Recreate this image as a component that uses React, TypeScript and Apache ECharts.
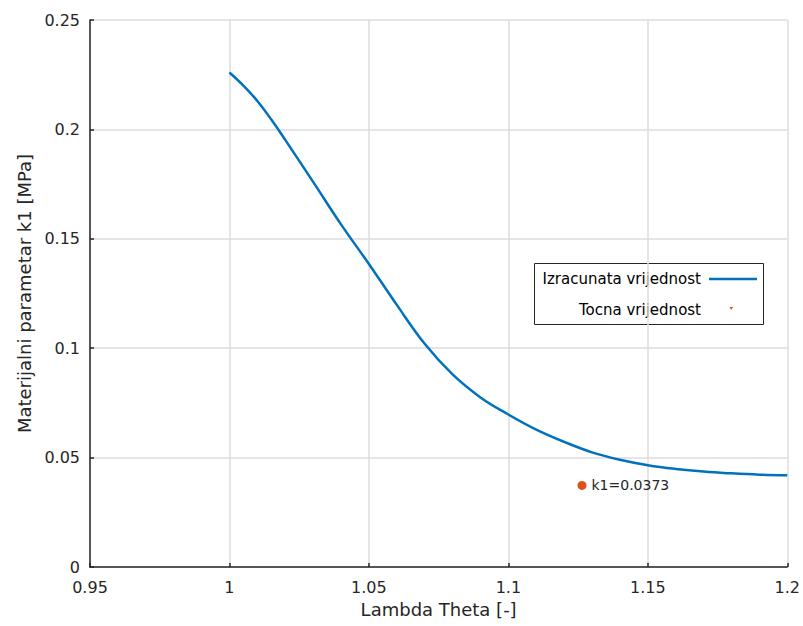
import React, { useEffect, useRef } from "react";
import * as echarts from "echarts";

const lambdaTheta = [1.0, 1.005, 1.01, 1.015, 1.02, 1.03, 1.04, 1.05, 1.06, 1.07, 1.08, 1.09, 1.1, 1.11, 1.12, 1.13, 1.14, 1.15, 1.16, 1.17, 1.18, 1.19, 1.2];
const k1Computed = [0.226, 0.22, 0.213, 0.2045, 0.1952, 0.176, 0.1566, 0.1385, 0.1198, 0.102, 0.088, 0.0775, 0.0697, 0.0628, 0.0572, 0.0524, 0.049, 0.0465, 0.0448, 0.0436, 0.0428, 0.0422, 0.0419];
const exactX = [1.1264];
const exactK1 = [0.0373];
const seriesNames = ["Izracunata vrijednost", "Tocna vrijednost"];

const FONT = "DejaVu Sans";
const TXT = "#262626";

export default function App() {
  const ref = useRef<HTMLDivElement>(null);
  useEffect(() => {
    if (!ref.current) return;
    const chart = echarts.init(ref.current, null, { renderer: "svg" });
    chart.setOption({
      animation: false,
      backgroundColor: "#ffffff",
      grid: { left: 90, right: 13, top: 20, bottom: 59, containLabel: false },
      xAxis: {
        type: "value",
        min: 0.95,
        max: 1.2,
        interval: 0.05,
        name: "Lambda Theta [-]",
        nameLocation: "middle",
        nameGap: 33,
        nameTextStyle: { fontFamily: FONT, fontSize: 18, color: TXT },
        axisLine: { show: true, onZero: false, lineStyle: { color: TXT, width: 1.5 } },
        axisTick: { show: true, inside: true, length: 4, lineStyle: { color: TXT, width: 1.5 } },
        axisLabel: { fontFamily: FONT, fontSize: 16, color: TXT, margin: 12 },
        splitLine: { show: true, lineStyle: { color: "#dcdcdc", width: 1.5 } },
      },
      yAxis: {
        type: "value",
        min: 0,
        max: 0.25,
        interval: 0.05,
        name: "Materijalni parametar k1 [MPa]",
        nameLocation: "middle",
        nameGap: 57,
        nameTextStyle: { fontFamily: FONT, fontSize: 18, color: TXT },
        axisLine: { show: true, onZero: false, lineStyle: { color: TXT, width: 1.5 } },
        axisTick: { show: true, inside: true, length: 4, lineStyle: { color: TXT, width: 1.5 } },
        axisLabel: { fontFamily: FONT, fontSize: 16, color: TXT, margin: 10 },
        splitLine: { show: true, lineStyle: { color: "#dcdcdc", width: 1.5 } },
      },
      series: [
        {
          name: seriesNames[0],
          type: "line",
          smooth: 0.4,
          showSymbol: false,
          data: lambdaTheta.map((x, i) => [x, k1Computed[i]]),
          lineStyle: { color: "#0072BD", width: 2.5 },
          itemStyle: { color: "#0072BD" },
          z: 3,
        },
        {
          name: seriesNames[1],
          type: "scatter",
          symbol: "circle",
          symbolSize: 9,
          data: exactX.map((x, i) => [x, exactK1[i]]),
          itemStyle: { color: "#D95319", opacity: 1 },
          label: {
            show: true,
            position: "right",
            distance: 5,
            formatter: (p: any) => `k1=${p.value[1]}`,
            fontFamily: FONT,
            fontSize: 14,
            color: TXT,
          },
          z: 4,
        },
      ],
      graphic: [
        {
          type: "group",
          children: [
            {
              type: "rect",
              shape: { x: 534.5, y: 263.5, width: 229, height: 61 },
              style: { fill: "#ffffff", stroke: TXT, lineWidth: 1 },
            },
            {
              type: "text",
              x: 701,
              y: 279,
              style: { text: seriesNames[0], fontFamily: FONT, fontSize: 15, fill: "#000000", align: "right", verticalAlign: "middle" },
            },
            {
              type: "line",
              shape: { x1: 709, y1: 279, x2: 757, y2: 279 },
              style: { stroke: "#0072BD", lineWidth: 2.5 },
            },
            {
              type: "text",
              x: 701,
              y: 309.5,
              style: { text: seriesNames[1], fontFamily: FONT, fontSize: 15, fill: "#000000", align: "right", verticalAlign: "middle" },
            },
            {
              type: "polygon",
              shape: { points: [[729.5, 307], [733, 307], [731.25, 310]] },
              style: { fill: "#D95319" },
            },
          ],
        },
      ],
    });
    return () => chart.dispose();
  }, []);
  return <div ref={ref} style={{ position: "absolute", left: 0, top: 0, width: 803, height: 626 }} />;
}
